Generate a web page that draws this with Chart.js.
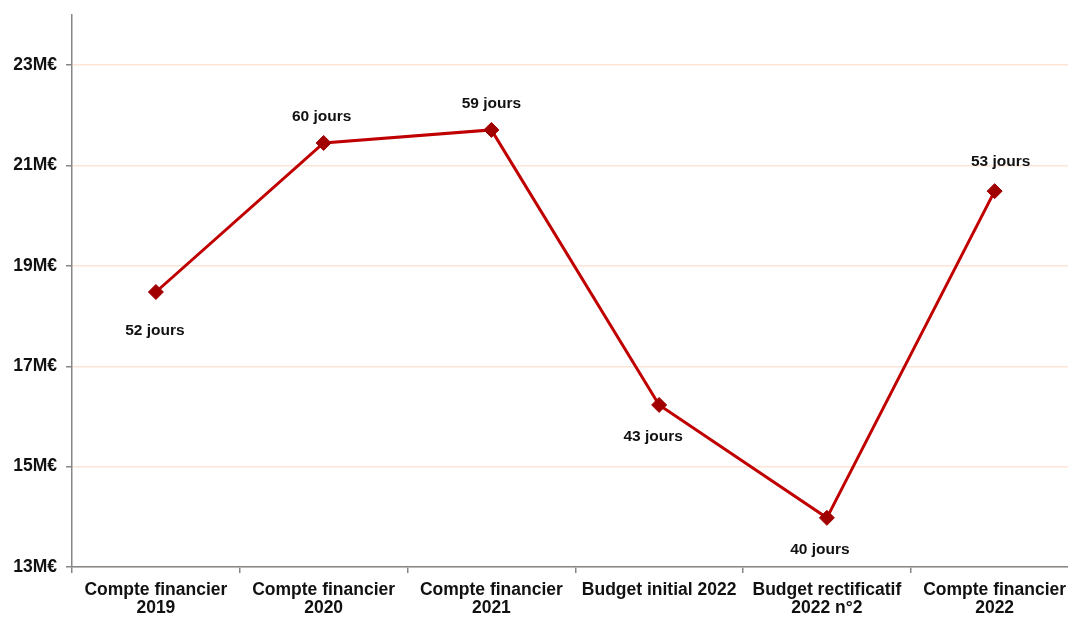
<!DOCTYPE html>
<html>
<head>
<meta charset="utf-8">
<script src="https://cdn.jsdelivr.net/npm/chart.js@4/dist/chart.umd.min.js"></script>
<style>
html,body{margin:0;padding:0;background:#fff;overflow:hidden;}
#wrap{width:1068px;height:617px;overflow:hidden;position:relative;}
#c{position:absolute;left:0;top:0;}
</style>
</head>
<body>
<div id="wrap"><canvas id="c" width="1087" height="617" style="width:1087px;height:617px"></canvas></div>
<script>
const categories = [
  ["Compte financier", "2019"],
  ["Compte financier", "2020"],
  ["Compte financier", "2021"],
  "Budget initial 2022",
  ["Budget rectificatif", "2022 n°2"],
  ["Compte financier", "2022"]
];
const valuesMEUR = [18.48, 21.45, 21.71, 16.23, 13.98, 20.49];
const joursLabels = ["52 jours", "60 jours", "59 jours", "43 jours", "40 jours", "53 jours"];
const yTicks = [13, 15, 17, 19, 21, 23];
const yMin = 13, yMax = 24;

const labelOffsets = [39, -26, -26, 32, 32, -29];
const labelDx = [-1, -2, 0, -6, -7, 6];

const dataLabelPlugin = {
  id: 'joursLabels',
  afterDatasetsDraw(chart) {
    const ctx = chart.ctx;
    const meta = chart.getDatasetMeta(0);
    ctx.save();
    ctx.font = 'bold 15.5px "Liberation Sans", Arial, sans-serif';
    ctx.fillStyle = '#111111';
    ctx.textAlign = 'center';
    ctx.textBaseline = 'middle';
    meta.data.forEach((pt, i) => {
      ctx.fillText(joursLabels[i], pt.x + labelDx[i], pt.y + labelOffsets[i]);
    });
    ctx.restore();
  }
};

new Chart(document.getElementById('c'), {
  type: 'line',
  data: {
    labels: categories,
    datasets: [{
      data: valuesMEUR,
      borderColor: '#C00000',
      borderWidth: 3,
      pointStyle: 'rectRot',
      pointRadius: 7.5,
      pointHoverRadius: 7.5,
      pointBackgroundColor: '#A00000',
      pointBorderColor: '#A00000',
      pointBorderWidth: 1,
      tension: 0,
      fill: false
    }]
  },
  options: {
    responsive: false,
    animation: false,
    events: [],
    layout: { padding: { top: 15, left: 0, right: 0, bottom: 0 } },
    plugins: { legend: { display: false }, tooltip: { enabled: false } },
    scales: {
      x: {
        offset: true,
        grid: {
          display: true,
          offset: true,
          drawOnChartArea: false,
          drawTicks: true,
          tickLength: 6,
          color: '#868686',
          lineWidth: 1.5
        },
        border: { display: true, color: '#868686', width: 1.5 },
        ticks: {
          color: '#111',
          font: { family: '"Liberation Sans", Arial, sans-serif', size: 17.5, weight: 'bold', lineHeight: 1.05 },
          padding: 8,
          maxRotation: 0,
          autoSkip: false
        },
        afterFit: (s) => { s.height = 50; s.paddingLeft = 0; s.paddingRight = 0; s.paddingTop = 0; s.paddingBottom = 0; }
      },
      y: {
        min: yMin,
        max: yMax,
        afterBuildTicks: (s) => { s.ticks = yTicks.map(v => ({ value: v })); },
        grid: {
          color: '#FCE4D6',
          lineWidth: 1.5,
          tickLength: 6,
          tickColor: '#868686',
          drawTicks: true
        },
        border: { display: true, color: '#868686', width: 1.5 },
        ticks: {
          color: '#111',
          font: { family: '"Liberation Sans", Arial, sans-serif', size: 17.5, weight: 'bold' },
          padding: 9,
          callback: (v) => v + 'M€'
        },
        afterFit: (s) => { s.width = 72; s.paddingLeft = 0; s.paddingRight = 0; s.paddingTop = 0; s.paddingBottom = 0; }
      }
    }
  },
  plugins: [dataLabelPlugin]
});
</script>
</body>
</html>
